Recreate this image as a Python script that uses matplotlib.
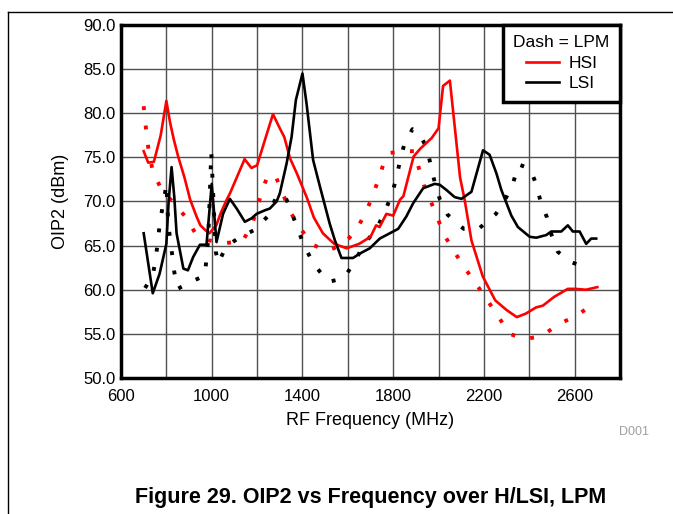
import matplotlib
matplotlib.use('Agg')
import matplotlib.pyplot as plt
from matplotlib.lines import Line2D

plt.rcParams['font.family'] = ['Liberation Sans', 'DejaVu Sans']

# HSI, HPM (solid red)
hsi_f = [700, 720, 745, 775, 800, 816, 833, 852, 880, 905, 933, 950, 970, 990, 1020,
         1040, 1066, 1080, 1110, 1145, 1175, 1200, 1230, 1270, 1300, 1320, 1345, 1375,
         1420, 1450, 1490, 1540, 1595, 1650, 1700, 1725, 1740, 1770, 1800, 1830, 1845,
         1890, 1920, 1970, 2000, 2020, 2050, 2095, 2115, 2145, 2195, 2250, 2300, 2345,
         2385, 2430, 2460, 2510, 2550, 2570, 2605, 2650, 2700]
hsi_v = [75.7, 74.4, 74.5, 77.5, 81.4, 79.0, 77.0, 75.1, 72.7, 70.2, 68.3, 67.3, 66.8, 66.4, 67.3,
         68.7, 70.2, 70.9, 72.7, 74.8, 73.8, 74.1, 76.6, 79.9, 78.3, 77.3, 74.9, 73.2,
         70.4, 68.2, 66.4, 65.2, 64.7, 65.2, 66.0, 67.3, 67.1, 68.6, 68.4, 70.2, 70.6,
         75.1, 76.0, 77.2, 78.3, 83.1, 83.7, 72.7, 70.2, 65.6, 61.5, 58.8, 57.7, 56.9,
         57.3, 58.0, 58.2, 59.2, 59.8, 60.1, 60.1, 60.0, 60.3]

# LSI (solid black)
lsi_f = [700, 740, 770, 800, 810, 823, 835, 845, 875, 895, 918, 948, 977, 1000, 1021,
         1050, 1080, 1110, 1146, 1176, 1198, 1234, 1256, 1286, 1300, 1330, 1352, 1371,
         1400, 1418, 1447, 1477, 1520, 1543, 1572, 1623, 1653, 1697, 1741, 1785, 1822,
         1858, 1888, 1932, 1983, 2005, 2035, 2071, 2101, 2145, 2196, 2225, 2255, 2277,
         2321, 2350, 2402, 2431, 2475, 2497, 2541, 2570, 2592, 2622, 2651, 2673, 2695]
lsi_v = [66.4, 59.6, 61.8, 65.2, 70.0, 73.9, 70.5, 66.4, 62.4, 62.2, 63.7, 65.1, 65.1, 72.0, 65.4,
         68.6, 70.3, 69.2, 67.7, 68.1, 68.6, 69.0, 69.2, 70.0, 70.9, 74.3, 77.3, 81.5,
         84.5, 81.1, 74.7, 71.7, 67.5, 65.6, 63.6, 63.6, 64.1, 64.7, 65.8, 66.4, 66.9,
         68.3, 69.8, 71.5, 72.0, 71.9, 71.3, 70.5, 70.3, 71.1, 75.8, 75.3, 73.2, 71.3,
         68.4, 67.1, 66.0, 65.9, 66.2, 66.6, 66.6, 67.3, 66.6, 66.6, 65.2, 65.8, 65.8]

# HSI, LPM (dotted red)
hsi_lpm_f = [700, 707, 715, 725, 742, 776, 826, 880, 926, 985, 1063, 1136, 1178, 1202,
             1222, 1249, 1286, 1315, 1344, 1388, 1437, 1506, 1579, 1638, 1680, 1709, 1735,
             1759, 1785, 1844, 1892, 1913, 1935, 1966, 1993, 2023, 2067, 2115, 2167, 2218,
             2265, 2313, 2384, 2458, 2529, 2604, 2690]
hsi_lpm_v = [80.8, 79.0, 77.1, 75.2, 73.3, 71.5, 70.0, 68.4, 66.5, 65.6, 65.3, 65.5, 67.4, 69.4,
             71.2, 73.1, 72.6, 70.8, 68.9, 67.1, 65.2, 64.4, 65.1, 66.8, 68.8, 70.6, 72.5,
             74.4, 75.5, 75.7, 75.7, 73.8, 71.9, 70.0, 68.3, 66.3, 64.4, 62.5, 60.6, 58.7,
             56.9, 55.0, 54.4, 54.8, 56.1, 57.0, 58.5]

# LSI, LPM (dotted black)
lsi_lpm_f = [706, 740, 753, 762, 770, 782, 795, 800, 808, 816, 826, 835, 850, 908, 970,
             985, 998, 1018, 1029, 1063, 1121, 1190, 1246, 1281, 1300, 1330, 1359, 1386,
             1415, 1455, 1516, 1582, 1631, 1670, 1726, 1763, 1792, 1814, 1829, 1848, 1885,
             1914, 1951, 1966, 1983, 2005, 2040, 2111, 2181, 2253, 2299, 2331, 2353, 2405,
             2431, 2450, 2478, 2497, 2526, 2578, 2660]
lsi_lpm_v = [60.2, 61.6, 63.5, 65.4, 67.3, 69.2, 71.1, 72.0, 67.7, 65.8, 63.9, 62.0, 60.1, 60.9, 61.6,
             66.0, 75.6, 64.3, 63.0, 64.9, 65.9, 66.8, 68.3, 70.3, 70.9, 70.2, 68.3, 66.4,
             64.6, 62.7, 60.9, 61.3, 63.2, 65.1, 66.9, 68.8, 70.7, 72.6, 74.5, 76.4, 78.2,
             77.8, 75.9, 74.0, 72.2, 70.3, 68.5, 66.9, 67.0, 68.6, 70.5, 72.3, 74.2, 73.7,
             71.9, 70.0, 68.2, 66.3, 64.3, 63.2, 62.4]

x_major = [600, 1000, 1400, 1800, 2200, 2600]
y_major = [50, 55, 60, 65, 70, 75, 80, 85, 90]

W, H = 673, 514
fig = plt.figure(figsize=(W / 100, H / 100), dpi=100)
ax = fig.add_axes([121 / W, 1 - 378 / H, (620 - 121) / W, (378 - 25) / H])

dot = (0, (1, 4))
ax.plot(hsi_lpm_f, hsi_lpm_v, color='#ff0000', lw=2.8, linestyle=dot)
ax.plot(lsi_lpm_f, lsi_lpm_v, color='black', lw=2.8, linestyle=dot)
ax.plot(hsi_f, hsi_v, color='#ff0000', lw=1.9, label='HSI')
ax.plot(lsi_f, lsi_v, color='black', lw=1.9, label='LSI')

ax.set_xlim(600, 2800)
ax.set_ylim(50, 90)
ax.set_xticks(x_major)
ax.set_xticks(range(600, 2801, 200), minor=True)
ax.set_yticks(y_major)
ax.set_yticklabels([f'{v:.1f}' for v in y_major])
ax.tick_params(which='both', length=0, labelsize=12)
ax.tick_params(axis='x', pad=8)
ax.tick_params(axis='y', pad=4)
ax.grid(True, which='both', color='#505050', lw=1)
ax.set_axisbelow(True)
for s in ax.spines.values():
    s.set_linewidth(2.5)

ax.set_xlabel('RF Frequency (MHz)', fontsize=13, labelpad=6)
ax.set_ylabel('OIP2 (dBm)', fontsize=13, labelpad=10)

leg = ax.legend(title='Dash = LPM', loc='upper right', borderaxespad=0,
                fancybox=False, edgecolor='black', framealpha=1,
                fontsize=12.5, title_fontsize=12.5, handlelength=1.9, handletextpad=0.55,
                borderpad=0.6, labelspacing=0.3)
leg.get_frame().set_linewidth(2.5)

# page frame lines and captions
fig.add_artist(Line2D([8 / W, 8 / W], [0, 1 - 12 / H], transform=fig.transFigure,
                      color='black', lw=1))
fig.add_artist(Line2D([8 / W, 1], [1 - 12 / H, 1 - 12 / H], transform=fig.transFigure,
                      color='black', lw=1))
fig.text(634 / W, 1 - 432 / H, 'D001', color='#a0a0a0', fontsize=9, ha='center', va='center')
fig.text(371 / W, 1 - 497 / H, 'Figure 29. OIP2 vs Frequency over H/LSI, LPM',
         ha='center', va='center', fontsize=15.5, fontweight='bold')

fig.savefig('out.png', dpi=100)
